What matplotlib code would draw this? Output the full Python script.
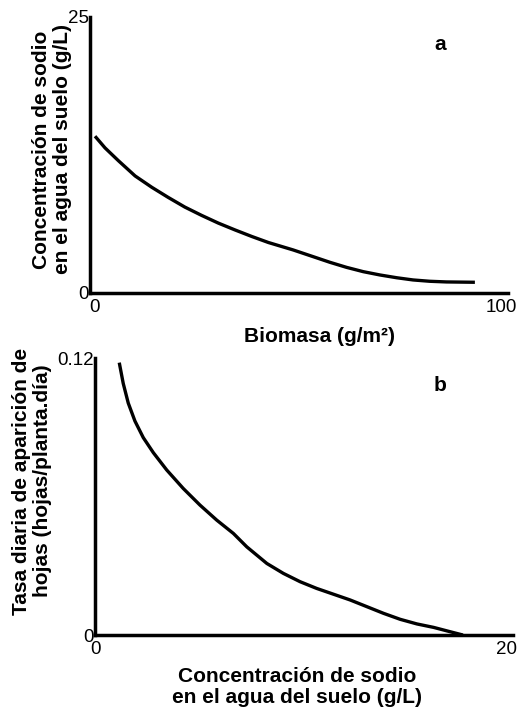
import matplotlib.pyplot as plt
from matplotlib.transforms import ScaledTranslation

# panel a: soil sodium (g/L) vs biomass (g/m2)
biomasa = [1.2, 3.6, 6.8, 10.8, 14.8, 18.7, 22.7, 26.7, 30.7, 34.7, 38.7, 42.7,
           48.6, 53.4, 57.4, 61.4, 65.4, 69.4, 73.4, 77.3, 81.3, 85.3, 92.1]
sodio_a = [14.2, 13.14, 11.98, 10.6, 9.57, 8.66, 7.78, 7.03, 6.33, 5.71, 5.12, 4.57,
           3.9, 3.29, 2.78, 2.32, 1.93, 1.63, 1.38, 1.18, 1.06, 1.0, 0.97]

# panel b: leaf appearance rate vs soil sodium
sodio_b = [1.16, 1.35, 1.59, 1.91, 2.31, 2.79, 3.43, 4.22, 5.02, 5.82, 6.62, 7.26,
           8.22, 9.01, 9.81, 10.6, 11.4, 12.2, 13.0, 13.8, 14.6, 15.4, 16.2, 17.0, 17.6]
tasa = [0.118, 0.109, 0.1005, 0.0927, 0.0855, 0.079, 0.0715, 0.0635, 0.0563, 0.0498,
        0.044, 0.0382, 0.031, 0.0267, 0.0231, 0.0202, 0.0177, 0.0152, 0.0123, 0.0094,
        0.0068, 0.0048, 0.0033, 0.0014, 0.0]

plt.rcParams["font.family"] = ["Liberation Sans", "DejaVu Sans"]

fig = plt.figure(figsize=(5.22, 7.07), dpi=100)
ax_a = fig.add_axes([0.1724, 0.5856, 0.8006, 0.3904])
ax_b = fig.add_axes([0.182, 0.1018, 0.801, 0.3918])

for ax in (ax_a, ax_b):
    for s in ("top", "right"):
        ax.spines[s].set_visible(False)
    for s in ("left", "bottom"):
        ax.spines[s].set_linewidth(2.5)
    ax.tick_params(length=0, labelsize=13.5)
    ax.tick_params(axis="y", pad=1)
    ax.tick_params(axis="x", pad=4)

lab = dict(fontsize=15, fontweight="bold", linespacing=1.15)

ax_a.plot(biomasa, sodio_a, color="black", lw=2.4, solid_capstyle="butt")
ax_a.set_xlim(0, 100)
ax_a.set_ylim(0, 25)
ax_a.set_xticks([0, 100])
ax_a.set_yticks([0, 25])
ax_a.set_xlabel("Biomasa (g/m²)", **lab)
ax_a.xaxis.set_label_coords(0.55, -0.125)
ax_a.set_ylabel("Concentración de sodio\nen el agua del suelo (g/L)", **lab)
ax_a.yaxis.set_label_coords(-0.043, 0.52)
ax_a.text(0.837, 0.90, "a", transform=ax_a.transAxes, fontsize=15,
          fontweight="bold", ha="center", va="center")

ax_b.plot(sodio_b, tasa, color="black", lw=2.4, solid_capstyle="butt")
ax_b.set_xlim(0, 20)
ax_b.set_ylim(0, 0.12)
ax_b.set_xticks([0, 20])
ax_b.set_xticklabels(["0", "20"])
ax_b.set_yticks([0, 0.12])
ax_b.set_yticklabels(["0", "0.12"])
ax_b.set_xlabel("Concentración de sodio\nen el agua del suelo (g/L)", **lab)
ax_b.xaxis.set_label_coords(0.483, -0.115)
ax_b.set_ylabel("Tasa diaria de aparición de\nhojas (hojas/planta.día)", **lab)
ax_b.yaxis.set_label_coords(-0.103, 0.556)
ax_b.text(0.825, 0.90, "b", transform=ax_b.transAxes, fontsize=15,
          fontweight="bold", ha="center", va="center")

# nudge x tick labels like the original: right ones in, left "0" of panel a out
shift_in = ScaledTranslation(-5 / 72, 0, fig.dpi_scale_trans)
for ax in (ax_a, ax_b):
    lbl = ax.get_xticklabels()[-1]
    lbl.set_transform(lbl.get_transform() + shift_in)
lbl0 = ax_a.get_xticklabels()[0]
lbl0.set_transform(lbl0.get_transform() + ScaledTranslation(3 / 72, 0, fig.dpi_scale_trans))

fig.savefig("out.png", dpi=100)
